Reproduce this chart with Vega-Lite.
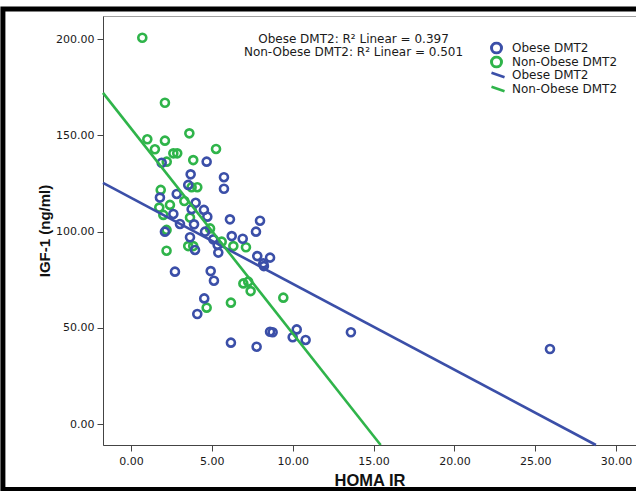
{
  "$schema": "https://vega.github.io/schema/vega-lite/v6.json",
  "width": 533,
  "height": 429,
  "autosize": "none",
  "padding": {"left": 103, "top": 16, "right": 0, "bottom": 46},
  "background": "white",
  "config": {
    "view": {"stroke": "#a0a0a0", "strokeWidth": 1},
    "font": "DejaVu Sans"
  },
  "title": {
    "text": ["Obese DMT2: R² Linear = 0.397", "Non-Obese DMT2: R² Linear = 0.501"],
    "anchor": "middle",
    "frame": "group",
    "orient": "top",
    "baseline": "top",
    "offset": 0,
    "dy": 53,
    "dx": -16,
    "font": "DejaVu Sans",
    "fontSize": 12,
    "fontWeight": "normal",
    "lineHeight": 13,
    "color": "#1a1a1a"
  },
  "datasets": {
    "points": [
      {"homa": 0.70, "igf": 200.8, "group": "Non-Obese DMT2"},
      {"homa": 2.10, "igf": 167.0, "group": "Non-Obese DMT2"},
      {"homa": 3.61, "igf": 151.1, "group": "Non-Obese DMT2"},
      {"homa": 1.01, "igf": 148.0, "group": "Non-Obese DMT2"},
      {"homa": 2.10, "igf": 147.3, "group": "Non-Obese DMT2"},
      {"homa": 1.48, "igf": 142.8, "group": "Non-Obese DMT2"},
      {"homa": 5.26, "igf": 143.0, "group": "Non-Obese DMT2"},
      {"homa": 2.62, "igf": 140.7, "group": "Non-Obese DMT2"},
      {"homa": 2.86, "igf": 140.7, "group": "Non-Obese DMT2"},
      {"homa": 2.21, "igf": 136.4, "group": "Non-Obese DMT2"},
      {"homa": 3.85, "igf": 137.2, "group": "Non-Obese DMT2"},
      {"homa": 3.75, "igf": 123.1, "group": "Non-Obese DMT2"},
      {"homa": 4.10, "igf": 123.1, "group": "Non-Obese DMT2"},
      {"homa": 1.84, "igf": 121.7, "group": "Non-Obese DMT2"},
      {"homa": 3.30, "igf": 115.9, "group": "Non-Obese DMT2"},
      {"homa": 1.75, "igf": 112.5, "group": "Non-Obese DMT2"},
      {"homa": 2.41, "igf": 113.9, "group": "Non-Obese DMT2"},
      {"homa": 2.00, "igf": 108.7, "group": "Non-Obese DMT2"},
      {"homa": 3.65, "igf": 107.3, "group": "Non-Obese DMT2"},
      {"homa": 2.20, "igf": 100.9, "group": "Non-Obese DMT2"},
      {"homa": 4.89, "igf": 101.7, "group": "Non-Obese DMT2"},
      {"homa": 5.61, "igf": 94.8, "group": "Non-Obese DMT2"},
      {"homa": 6.33, "igf": 92.5, "group": "Non-Obese DMT2"},
      {"homa": 3.54, "igf": 92.5, "group": "Non-Obese DMT2"},
      {"homa": 3.85, "igf": 92.5, "group": "Non-Obese DMT2"},
      {"homa": 7.11, "igf": 91.9, "group": "Non-Obese DMT2"},
      {"homa": 2.20, "igf": 90.1, "group": "Non-Obese DMT2"},
      {"homa": 6.95, "igf": 73.1, "group": "Non-Obese DMT2"},
      {"homa": 7.25, "igf": 74.0, "group": "Non-Obese DMT2"},
      {"homa": 7.40, "igf": 69.1, "group": "Non-Obese DMT2"},
      {"homa": 9.42, "igf": 65.7, "group": "Non-Obese DMT2"},
      {"homa": 4.68, "igf": 60.5, "group": "Non-Obese DMT2"},
      {"homa": 6.18, "igf": 63.1, "group": "Non-Obese DMT2"},
      {"homa": 1.90, "igf": 135.8, "group": "Obese DMT2"},
      {"homa": 4.68, "igf": 136.4, "group": "Obese DMT2"},
      {"homa": 3.69, "igf": 129.8, "group": "Obese DMT2"},
      {"homa": 5.75, "igf": 128.3, "group": "Obese DMT2"},
      {"homa": 3.54, "igf": 124.3, "group": "Obese DMT2"},
      {"homa": 5.75, "igf": 122.3, "group": "Obese DMT2"},
      {"homa": 1.79, "igf": 117.7, "group": "Obese DMT2"},
      {"homa": 2.83, "igf": 119.6, "group": "Obese DMT2"},
      {"homa": 4.00, "igf": 115.0, "group": "Obese DMT2"},
      {"homa": 2.62, "igf": 109.2, "group": "Obese DMT2"},
      {"homa": 3.75, "igf": 111.7, "group": "Obese DMT2"},
      {"homa": 4.51, "igf": 111.3, "group": "Obese DMT2"},
      {"homa": 4.72, "igf": 107.8, "group": "Obese DMT2"},
      {"homa": 6.12, "igf": 106.4, "group": "Obese DMT2"},
      {"homa": 7.98, "igf": 105.7, "group": "Obese DMT2"},
      {"homa": 2.10, "igf": 100.0, "group": "Obese DMT2"},
      {"homa": 3.03, "igf": 104.0, "group": "Obese DMT2"},
      {"homa": 3.90, "igf": 103.8, "group": "Obese DMT2"},
      {"homa": 7.73, "igf": 100.0, "group": "Obese DMT2"},
      {"homa": 3.65, "igf": 97.1, "group": "Obese DMT2"},
      {"homa": 4.58, "igf": 100.0, "group": "Obese DMT2"},
      {"homa": 6.23, "igf": 97.7, "group": "Obese DMT2"},
      {"homa": 6.91, "igf": 96.3, "group": "Obese DMT2"},
      {"homa": 5.09, "igf": 96.0, "group": "Obese DMT2"},
      {"homa": 5.36, "igf": 93.1, "group": "Obese DMT2"},
      {"homa": 3.96, "igf": 90.5, "group": "Obese DMT2"},
      {"homa": 5.40, "igf": 89.1, "group": "Obese DMT2"},
      {"homa": 7.81, "igf": 87.3, "group": "Obese DMT2"},
      {"homa": 8.60, "igf": 86.5, "group": "Obese DMT2"},
      {"homa": 8.18, "igf": 83.5, "group": "Obese DMT2"},
      {"homa": 8.22, "igf": 82.1, "group": "Obese DMT2"},
      {"homa": 2.72, "igf": 79.2, "group": "Obese DMT2"},
      {"homa": 4.93, "igf": 79.5, "group": "Obese DMT2"},
      {"homa": 5.13, "igf": 74.5, "group": "Obese DMT2"},
      {"homa": 4.53, "igf": 65.3, "group": "Obese DMT2"},
      {"homa": 4.10, "igf": 57.2, "group": "Obese DMT2"},
      {"homa": 6.18, "igf": 42.3, "group": "Obese DMT2"},
      {"homa": 7.77, "igf": 40.2, "group": "Obese DMT2"},
      {"homa": 8.60, "igf": 48.0, "group": "Obese DMT2"},
      {"homa": 8.76, "igf": 47.7, "group": "Obese DMT2"},
      {"homa": 10.25, "igf": 49.2, "group": "Obese DMT2"},
      {"homa": 10.00, "igf": 45.1, "group": "Obese DMT2"},
      {"homa": 10.80, "igf": 43.7, "group": "Obese DMT2"},
      {"homa": 13.60, "igf": 47.7, "group": "Obese DMT2"},
      {"homa": 25.91, "igf": 39.0, "group": "Obese DMT2"}
    ],
    "fits": [
      {"homa": -1.73, "igf": 125.33, "fit": "Obese DMT2 fit"},
      {"homa": 28.75, "igf": -10.9, "fit": "Obese DMT2 fit"},
      {"homa": -1.73, "igf": 172.14, "fit": "Non-Obese DMT2 fit"},
      {"homa": 15.44, "igf": -10.9, "fit": "Non-Obese DMT2 fit"}
    ],
    "frame": [{"part": "outer frame"}]
  },
  "layer": [
    {
      "data": {"name": "points"},
      "mark": {"type": "point", "shape": "circle", "filled": false, "strokeWidth": 2.6, "size": 64, "opacity": 1},
      "encoding": {
        "x": {
          "field": "homa", "type": "quantitative",
          "scale": {"domain": [-1.73, 31.23], "nice": false, "zero": false},
          "axis": {
            "title": "HOMA IR", "values": [0, 5, 10, 15, 20, 25, 30], "format": ".2f", "grid": false,
            "domainColor": "#444", "tickColor": "#444", "tickSize": 6, "labelFlush": false,
            "labelFont": "DejaVu Sans", "labelFontSize": 11, "labelColor": "#1a1a1a", "labelPadding": 4,
            "titleFont": "Liberation Sans", "titleFontSize": 16.5, "titleFontWeight": "bold", "titleColor": "#111", "titlePadding": 6
          }
        },
        "y": {
          "field": "igf", "type": "quantitative",
          "scale": {"domain": [-10.9, 212.1], "nice": false, "zero": false},
          "axis": {
            "title": "IGF-1 (ng/ml)", "values": [0, 50, 100, 150, 200], "format": ".2f", "grid": false,
            "domainColor": "#444", "tickColor": "#444", "tickSize": 6, "labelFlush": false,
            "labelFont": "DejaVu Sans", "labelFontSize": 11, "labelColor": "#1a1a1a", "labelPadding": 3,
            "titleFont": "Liberation Sans", "titleFontSize": 15, "titleFontWeight": "bold", "titleColor": "#111", "titlePadding": 3
          }
        },
        "color": {
          "field": "group", "type": "nominal",
          "scale": {"domain": ["Obese DMT2", "Non-Obese DMT2"], "range": ["#3b4fa8", "#2fb44a"]},
          "legend": {
            "title": null, "orient": "none", "legendX": 387, "legendY": 25.5, "padding": 0,
            "symbolType": "circle", "symbolSize": 100, "symbolStrokeWidth": 3, "rowPadding": 1, "clipHeight": 13, "labelOffset": 9,
            "labelFont": "DejaVu Sans", "labelFontSize": 12, "labelColor": "#1a1a1a"
          }
        }
      }
    },
    {
      "data": {"name": "fits"},
      "mark": {"type": "line", "strokeWidth": 2.6},
      "encoding": {
        "x": {"field": "homa", "type": "quantitative"},
        "y": {"field": "igf", "type": "quantitative"},
        "stroke": {
          "field": "fit", "type": "nominal",
          "scale": {"domain": ["Obese DMT2 fit", "Non-Obese DMT2 fit"], "range": ["#3b4fa8", "#2fb44a"]},
          "legend": {
            "title": null, "orient": "none", "legendX": 387, "legendY": 52.5, "padding": 0,
            "symbolType": "M -1 -0.35 L 1 0.35", "symbolFillColor": "transparent", "symbolSize": 170, "symbolStrokeWidth": 2.6,
            "rowPadding": 1, "clipHeight": 13, "labelOffset": 6,
            "labelExpr": "replace(datum.label, ' fit', '')",
            "labelFont": "DejaVu Sans", "labelFontSize": 12, "labelColor": "#1a1a1a"
          }
        }
      }
    },
    {
      "data": {"name": "frame"},
      "mark": {"type": "rect", "fillOpacity": 0, "stroke": "black", "strokeWidth": 5},
      "encoding": {
        "x": {"datum": -7.92, "type": "quantitative"},
        "x2": {"datum": 33},
        "y": {"datum": 215.75, "type": "quantitative"},
        "y2": {"datum": -34.05}
      }
    }
  ]
}
